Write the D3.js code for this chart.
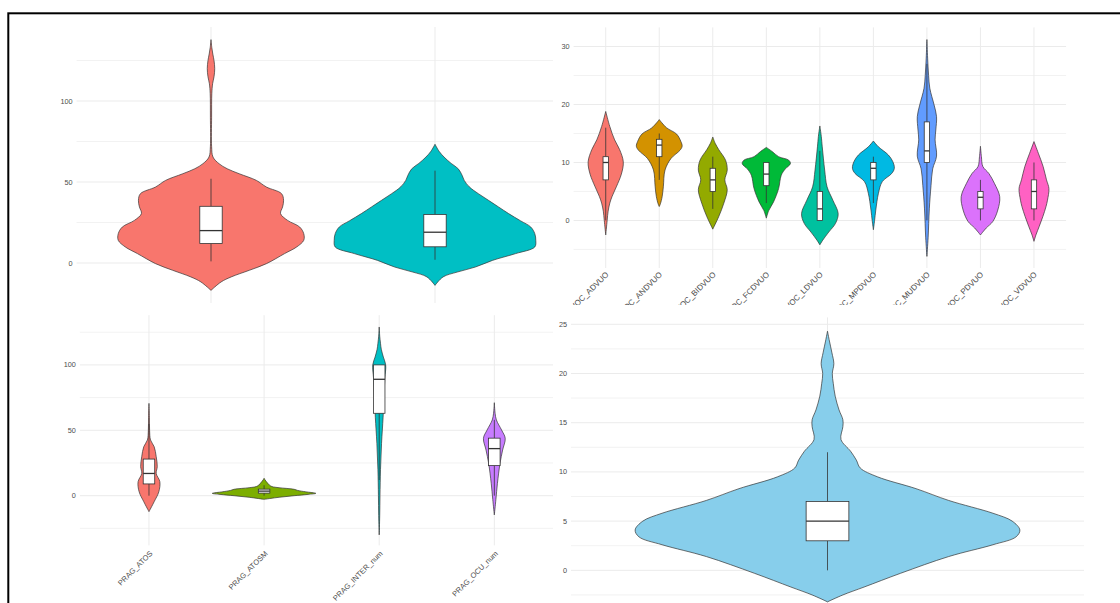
<!DOCTYPE html>
<html>
<head>
<meta charset="utf-8">
<script src="https://cdn.jsdelivr.net/npm/d3@7"></script>
<style>
  body { margin: 0; background: #fff; }
  svg { display: block; font-family: "Liberation Sans", Arial, sans-serif; }
  .tick-label { fill: #4d4d4d; font-size: 7.3px; }
</style>
</head>
<body>
<svg id="chart" width="1120" height="603"></svg>
<script>
// ---- data: density profiles are [value, relative density] ----
// box stats are [low whisker, q1, median, q3, high whisker]

// top left
const tlCategories = ["Grupo_1", "Grupo_2"];
const tlFill = ["#F8766D", "#00BFC4"];
const tlDensity = [
  [[-16.9,0],[-11.7,0.10],[-8.6,0.20],[-4.5,0.38],[-0.4,0.55],[5.8,0.73],[9.9,0.85],[14,0.92],[18.1,0.92],
   [22.2,0.88],[26.3,0.76],[30.5,0.69],[34.6,0.71],[38.7,0.72],[42.8,0.70],[46.9,0.55],[51,0.45],[55.1,0.28],
   [58.2,0.16],[61.3,0.08],[65.4,0.02],[72,0.006],[90,0.006],[104.5,0.008],[110.7,0.016],[115,0.03],
   [120,0.037],[125,0.03],[129,0.018],[133,0.008],[137.9,0]],
  [[-13.8,0],[-8.6,0.08],[-5.6,0.22],[-2.5,0.40],[1.6,0.57],[5.8,0.80],[9.9,0.99],[14,1.0],[18.1,0.99],
   [22.2,0.95],[26,0.85],[30.5,0.73],[34.6,0.63],[38.7,0.53],[42.8,0.43],[47,0.34],[51,0.29],[54,0.27],
   [58.2,0.23],[61.5,0.16],[65.4,0.09],[69,0.04],[73.3,0]]
];
const tlBox = [[1, 12, 20, 35, 52], [2, 10, 19, 30, 57]];
const tlTicks = [0, 50, 100];
const tlMinorTicks = [25, 75, 125];

// top right
const trCategories = ["VOC_ADVUO", "VOC_ANDVUO", "VOC_BIDVUO", "VOC_FCDVUO", "VOC_LDVUO",
                      "VOC_MPDVUO", "VOC_MUDVUO", "VOC_PDVUO", "VOC_VDVUO"];
const trFill = ["#F8766D", "#D39200", "#93AA00", "#00BA38", "#00C19F", "#00B9E3", "#619CFF", "#DB72FB", "#FF61C3"];
const trDensity = [
  [[-2.5,0],[0,0.06],[1.6,0.1],[3,0.17],[4.1,0.26],[5.8,0.44],[8,0.65],[10.1,0.73],[12.2,0.58],[13.9,0.37],[16.2,0.17],[18.8,0]],
  [[2.4,0],[2.9,0.05],[4.1,0.12],[5.8,0.17],[8.7,0.24],[10.7,0.49],[12.1,0.86],[12.8,0.95],[13.6,0.9],[14.9,0.72],[16,0.3],[17.4,0]],
  [[-1.5,0],[0.7,0.25],[3,0.46],[5.3,0.6],[7,0.5],[8.7,0.6],[10.4,0.53],[12.2,0.25],[13.3,0.1],[14.4,0]],
  [[0.4,0],[1.7,0.1],[3.2,0.3],[5.5,0.51],[7.8,0.62],[8.9,0.79],[9.8,1.0],[10.4,0.93],[11,0.51],[11.9,0.24],[12.6,0]],
  [[-4.2,0],[-3.4,0.12],[-2,0.37],[-0.5,0.65],[1.2,0.76],[3.5,0.54],[5.8,0.3],[8.7,0.2],[12.7,0.1],[14.5,0.06],[16.3,0]],
  [[-1.6,0],[0,0.05],[1.8,0.1],[4.7,0.21],[6.7,0.37],[8.1,0.76],[9,0.87],[10.2,0.8],[11.3,0.62],[12.7,0.21],[13.7,0]],
  [[-6.2,0],[-3,0.05],[2,0.1],[6,0.17],[8.9,0.24],[11.1,0.4],[13.9,0.34],[15.6,0.37],[17.9,0.4],[19.9,0.3],[22.8,0.12],[25,0.07],[28,0.03],[31.2,0]],
  [[-2.5,0],[-1.3,0.24],[-0.2,0.51],[1.8,0.72],[4.1,0.8],[6.4,0.58],[8.1,0.35],[9.3,0.1],[11,0.04],[12.8,0]],
  [[-3.6,0],[-2.5,0.08],[-1,0.22],[0.7,0.37],[2.4,0.5],[3.5,0.56],[5.5,0.62],[7,0.52],[9.3,0.38],[11.6,0.18],[13.6,0]]
];
const trBox = [[0,7,10,11,16],[7,11,13,14,15],[2,5,7,9,11],[3,6,8,10,10],[0,0,2,5,12],
               [3,7,9,10,11],[0,10,12,17,27],[0,2,4,5,7],[0,2,5,7,10]];
const trTicks = [0, 10, 20, 30];
const trMinorTicks = [-5, 5, 15, 25];

// bottom left
const blCategories = ["PRAG_ATOS", "PRAG_ATOSM", "PRAG_INTER_num", "PRAG_OCU_num"];
const blFill = ["#F8766D", "#7CAE00", "#00BFC4", "#C77CFF"];
const blDensity = [
  [[-12.2,0],[-4.6,0.1],[3,0.19],[10.7,0.21],[17,0.14],[22.2,0.16],[29.8,0.14],[37.5,0.1],[42.6,0.03],[50,0.012],[60,0.008],[70.6,0]],
  [[-2.8,0],[-1.2,0.29],[0,0.58],[1,0.85],[1.8,1.0],[3,0.8],[4,0.65],[4.9,0.58],[6.1,0.29],[7,0.15],[8.2,0.1],[10,0.06],[12,0.02],[13.3,0]],
  [[-30,0],[-15,0.01],[0,0.015],[20,0.025],[40,0.045],[60,0.075],[75,0.09],[90,0.11],[100,0.125],[106,0.08],[112,0.04],[116.5,0.025],[122,0.01],[129,0]],
  [[-14.7,0],[-3,0.03],[9.5,0.06],[24.8,0.11],[34.9,0.16],[43.9,0.21],[50.2,0.14],[57.9,0.04],[63,0.015],[71.1,0]]
];
const blBox = [[0,9,17,28,55],[0,2,3.5,5,8],[12,63,89,100,100],[0,23,36,44,58]];
const blTicks = [0, 50, 100];
const blMinorTicks = [-25, 25, 75, 125];

// bottom right
const brCategories = ["total"];
const brFill = ["#87CEEB"];
const brDensity = [
  [[-3.2,0],[-2.5,0.08],[-1.7,0.19],[-0.3,0.38],[1.4,0.63],[2.6,0.86],[3.4,0.98],[4.1,1.0],[5,0.96],[5.8,0.86],
   [7.1,0.63],[8.3,0.46],[9.5,0.26],[10.4,0.17],[11.2,0.15],[12.1,0.12],[13.3,0.07],[14.6,0.08],[15.3,0.08],
   [16.3,0.06],[17.7,0.04],[19,0.03],[20,0.025],[21,0.033],[22.1,0.023],[23.3,0.01],[24.3,0]]
];
const brBox = [[0, 3, 5, 7, 12]];
const brTicks = [0, 5, 10, 15, 20, 25];
const brMinorTicks = [-2.5, 2.5, 7.5, 12.5, 17.5, 22.5];

// ---- drawing ----
const svg = d3.select("#chart");

function drawPanel(cfg, cats, fills, density, boxes, ticks, minorTicks) {
  const clipId = "clip-" + cfg.id;
  svg.append("clipPath").attr("id", clipId)
    .append("rect")
    .attr("x", cfg.clip[0]).attr("y", cfg.clip[1])
    .attr("width", cfg.clip[2]).attr("height", cfg.clip[3]);

  const g = svg.append("g").attr("clip-path", `url(#${clipId})`);

  const x = d3.scalePoint().domain(cats).range(cfg.xRange).padding(0.6);
  const y = d3.scaleLinear().domain(cfg.yDomain).range(cfg.yRange);
  const step = cats.length > 1 ? x.step() : (cfg.xRange[1] - cfg.xRange[0]) / 1.2;
  const halfW = d3.scaleLinear().domain([0, 1]).range([0, 0.45 * step]);
  const boxW = 0.1 * step;

  // grid
  g.append("g").selectAll("line")
    .data(minorTicks)
    .join("line")
    .attr("x1", cfg.xRange[0]).attr("x2", cfg.xRange[1])
    .attr("y1", d => y(d)).attr("y2", d => y(d))
    .attr("stroke", "#f0f0f0").attr("stroke-width", 0.9);

  g.append("g").selectAll("line")
    .data(ticks)
    .join("line")
    .attr("x1", cfg.xRange[0]).attr("x2", cfg.xRange[1])
    .attr("y1", d => y(d)).attr("y2", d => y(d))
    .attr("stroke", "#ebebeb").attr("stroke-width", 1);

  g.append("g").selectAll("line")
    .data(cats)
    .join("line")
    .attr("x1", d => x(d)).attr("x2", d => x(d))
    .attr("y1", cfg.yRange[0]).attr("y2", cfg.yRange[1])
    .attr("stroke", "#ebebeb").attr("stroke-width", 1);

  // y tick labels
  g.append("g").selectAll("text")
    .data(ticks)
    .join("text")
    .attr("class", "tick-label")
    .attr("x", cfg.xRange[0] - 4)
    .attr("y", d => y(d))
    .attr("dy", "0.35em")
    .attr("text-anchor", "end")
    .text(d => d);

  // x tick labels (rotated 45 degrees, like ggplot's angle = 45, hjust = 1)
  if (cfg.labelY != null) {
    g.append("g").selectAll("text")
      .data(cats)
      .join("text")
      .attr("class", "tick-label")
      .style("font-size", cfg.labelSize + "px")
      .attr("text-anchor", "end")
      .attr("transform", d => `translate(${x(d) + cfg.labelDx}, ${cfg.labelY}) rotate(-45)`)
      .text(d => d);
  }

  // violins
  cats.forEach((cat, i) => {
    const cx = x(cat);
    const area = d3.area()
      .curve(d3.curveCatmullRom.alpha(0.5))
      .y(d => y(d[0]))
      .x0(d => cx - halfW(d[1]))
      .x1(d => cx + halfW(d[1]));

    g.append("path")
      .datum(density[i])
      .attr("d", area)
      .attr("fill", fills[i])
      .attr("stroke", "#333")
      .attr("stroke-width", 0.7);

    const [lo, q1, med, q3, hi] = boxes[i];
    const bg = g.append("g");
    bg.append("line")
      .attr("x1", cx).attr("x2", cx)
      .attr("y1", y(hi)).attr("y2", y(q3))
      .attr("stroke", "#333").attr("stroke-width", 0.8);
    bg.append("line")
      .attr("x1", cx).attr("x2", cx)
      .attr("y1", y(q1)).attr("y2", y(lo))
      .attr("stroke", "#333").attr("stroke-width", 0.8);
    bg.append("rect")
      .attr("x", cx - boxW / 2).attr("y", y(q3))
      .attr("width", boxW).attr("height", y(q1) - y(q3))
      .attr("fill", "#fff")
      .attr("stroke", "#333").attr("stroke-width", 0.8);
    bg.append("line")
      .attr("x1", cx - boxW / 2).attr("x2", cx + boxW / 2)
      .attr("y1", y(med)).attr("y2", y(med))
      .attr("stroke", "#333").attr("stroke-width", 1.3);
  });
}

drawPanel({ id: "tl", clip: [10, 15, 543, 288], xRange: [76.6, 569.4],
            yDomain: [-24.7, 145.7], yRange: [303, 27] },
          tlCategories, tlFill, tlDensity, tlBox, tlTicks, tlMinorTicks);

drawPanel({ id: "tr", clip: [553, 15, 567, 290], xRange: [573.6, 1066.1],
            yDomain: [-8.2, 33.3], yRange: [268, 27.4], labelY: 275, labelDx: 3.5, labelSize: 8 },
          trCategories, trFill, trDensity, trBox, trTicks, trMinorTicks);

drawPanel({ id: "bl", clip: [10, 303, 543, 300], xRange: [79.9, 563.4],
            yDomain: [-38, 138], yRange: [545.4, 315.2], labelY: 554, labelDx: 4, labelSize: 7.5 },
          blCategories, blFill, blDensity, blBox, blTicks, blMinorTicks);

drawPanel({ id: "br", clip: [553, 305, 567, 298], xRange: [571, 1084],
            yDomain: [-4.6, 25.7], yRange: [615.6, 317.4] },
          brCategories, brFill, brDensity, brBox, brTicks, brMinorTicks);

// outer frame of the composite
svg.append("rect")
  .attr("x", 8.3).attr("y", 13.3)
  .attr("width", 1200).attr("height", 700)
  .attr("fill", "none")
  .attr("stroke", "#000")
  .attr("stroke-width", 2);
</script>
</body>
</html>
